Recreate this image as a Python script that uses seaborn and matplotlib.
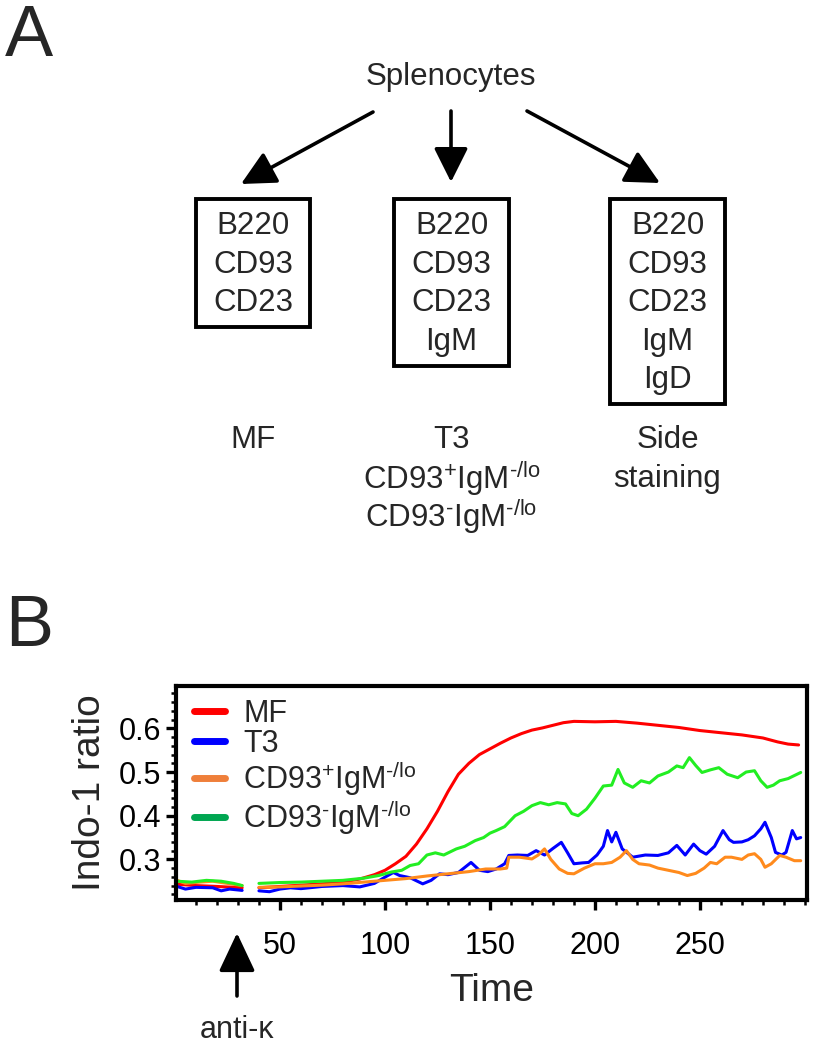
"""
plot.py - flow scheme (A) and Indo-1 calcium flux traces (B).
"""
import matplotlib
matplotlib.use("Agg")
import matplotlib.pyplot as plt
from matplotlib.lines import Line2D
from matplotlib.patches import Rectangle, FancyArrowPatch
from matplotlib.ticker import MultipleLocator
import numpy as np
import pandas as pd
import seaborn as sns

# ---- panel B data ----
SERIES = ["MF", "T3", "CD93+IgM-/lo", "CD93-IgM-/lo"]
POS_LABEL = "CD93$^{+}$IgM$^{\u2010/\\mathrm{lo}}$"
NEG_LABEL = "CD93$^{\u2010}$IgM$^{\u2010/\\mathrm{lo}}$"
LABELS = ["MF", "T3", POS_LABEL, NEG_LABEL]
LINE_COLORS = ["#ff0000", "#0000ff", "#ff8a1c", "#22ee22"]
LEGEND_COLORS = ["#ff0000", "#0000ff", "#ef7f3a", "#00a651"]

# before stimulation (time 1-32), one list per series
pre_t = {
    "MF":           [1, 10, 20, 28, 32],
    "T3":           [1, 5, 10, 18, 22, 26, 32],
    "CD93+IgM-/lo": [1, 5, 12, 18, 25, 32],
    "CD93-IgM-/lo": [1, 8, 15, 22, 28, 32],
}
pre_v = {
    "MF":           [0.243, 0.240, 0.238, 0.236, 0.235],
    "T3":           [0.238, 0.232, 0.236, 0.235, 0.228, 0.232, 0.229],
    "CD93+IgM-/lo": [0.252, 0.245, 0.248, 0.250, 0.245, 0.240],
    "CD93-IgM-/lo": [0.250, 0.248, 0.252, 0.250, 0.245, 0.240],
}

# after anti-kappa (time 40-298)
mf_t = [40, 50, 60, 70, 80, 88, 95, 100, 105, 110, 115, 120, 125, 130, 135, 140,
        145, 150, 155, 160, 165, 170, 175, 180, 185, 190, 200, 210, 220, 230,
        240, 250, 260, 270, 280, 287, 292, 297]
mf_v = [0.235, 0.238, 0.241, 0.244, 0.248, 0.255, 0.265, 0.275, 0.290, 0.307,
        0.335, 0.370, 0.410, 0.455, 0.495, 0.520, 0.540, 0.553, 0.566, 0.578,
        0.588, 0.596, 0.601, 0.607, 0.613, 0.616, 0.615, 0.616, 0.612, 0.607,
        0.602, 0.595, 0.590, 0.585, 0.578, 0.569, 0.564, 0.562]

t3_t = [40, 45, 50, 55, 60, 70, 80, 88, 95, 101, 104, 107, 112, 118, 122, 126,
        130, 135, 141, 145, 149, 153, 157, 159, 163, 168, 172, 176, 180, 184,
        187, 190, 194, 197, 201, 204, 206, 208, 210, 213, 218, 224, 230, 235,
        239, 243, 247, 250, 253, 257, 261, 264, 266, 270, 273, 276, 279, 281,
        284, 286, 289, 291, 294, 296, 298]
t3_v = [0.228, 0.226, 0.232, 0.235, 0.233, 0.238, 0.240, 0.237, 0.245, 0.262,
        0.270, 0.263, 0.258, 0.244, 0.252, 0.267, 0.265, 0.270, 0.293, 0.275,
        0.272, 0.278, 0.290, 0.309, 0.310, 0.309, 0.320, 0.310, 0.325, 0.339,
        0.315, 0.290, 0.292, 0.293, 0.310, 0.330, 0.366, 0.340, 0.362, 0.324,
        0.305, 0.310, 0.309, 0.315, 0.332, 0.310, 0.335, 0.320, 0.312, 0.330,
        0.366, 0.345, 0.339, 0.340, 0.345, 0.354, 0.370, 0.385, 0.350, 0.316,
        0.310, 0.316, 0.366, 0.347, 0.350]

pos_t = [40, 50, 60, 70, 80, 90, 100, 110, 120, 130, 140, 148, 155, 158, 159,
         164, 170, 173, 176, 179, 183, 187, 190, 195, 200, 204, 208, 212, 215,
         218, 221, 226, 230, 235, 240, 244, 248, 252, 255, 258, 262, 265, 270,
         273, 276, 279, 281, 284, 288, 291, 295, 298]
pos_v = [0.236, 0.237, 0.239, 0.241, 0.244, 0.248, 0.252, 0.256, 0.262, 0.267,
         0.272, 0.278, 0.278, 0.280, 0.305, 0.305, 0.301, 0.310, 0.324, 0.300,
         0.278, 0.268, 0.267, 0.280, 0.290, 0.290, 0.293, 0.305, 0.320, 0.300,
         0.290, 0.287, 0.280, 0.275, 0.270, 0.263, 0.268, 0.280, 0.293, 0.290,
         0.305, 0.305, 0.300, 0.310, 0.313, 0.300, 0.282, 0.290, 0.309, 0.305,
         0.297, 0.297]

neg_t = [40, 50, 60, 70, 80, 90, 97, 103, 108, 112, 116, 120, 124, 128, 134,
         138, 143, 147, 150, 153, 157, 162, 166, 170, 174, 178, 182, 186, 189,
         192, 196, 200, 204, 208, 211, 214, 218, 222, 226, 230, 235, 239, 242,
         245, 248, 251, 255, 259, 263, 268, 272, 276, 279, 282, 285, 288, 292,
         295, 298]
neg_v = [0.245, 0.247, 0.248, 0.250, 0.252, 0.257, 0.263, 0.271, 0.275, 0.286,
         0.290, 0.310, 0.315, 0.310, 0.324, 0.330, 0.343, 0.350, 0.360, 0.366,
         0.375, 0.400, 0.410, 0.423, 0.430, 0.425, 0.430, 0.427, 0.405, 0.400,
         0.415, 0.440, 0.468, 0.470, 0.506, 0.475, 0.465, 0.480, 0.475, 0.491,
         0.500, 0.514, 0.510, 0.533, 0.515, 0.499, 0.505, 0.510, 0.495, 0.487,
         0.500, 0.503, 0.480, 0.465, 0.470, 0.480, 0.485, 0.492, 0.499]

post_t = {"MF": mf_t, "T3": t3_t, "CD93+IgM-/lo": pos_t, "CD93-IgM-/lo": neg_t}
post_v = {"MF": mf_v, "T3": t3_v, "CD93+IgM-/lo": pos_v, "CD93-IgM-/lo": neg_v}

X_TICKS = [50, 100, 150, 200, 250]
Y_TICKS = [0.3, 0.4, 0.5, 0.6]

# ---- panel A text ----
BOX_MARKERS = [
    ["B220", "CD93", "CD23"],
    ["B220", "CD93", "CD23", "IgM"],
    ["B220", "CD93", "CD23", "IgM", "IgD"],
]
POP_LABELS = [
    ["MF"],
    ["T3", POS_LABEL, NEG_LABEL],
    ["Side", "staining"],
]

# ---- build long table ----
rows = []
for s in SERIES:
    for t, v in zip(pre_t[s], pre_v[s]):
        rows.append((s, "pre", t, v))
    for t, v in zip(post_t[s], post_v[s]):
        rows.append((s, "post", t, v))
df = pd.DataFrame(rows, columns=["series", "segment", "time", "ratio"])

sns.set_theme(style="ticks")
plt.rcParams["font.family"] = ["Liberation Sans", "DejaVu Sans"]
plt.rcParams["mathtext.fontset"] = "custom"
plt.rcParams["mathtext.rm"] = "Liberation Sans"
plt.rcParams["mathtext.it"] = "Liberation Sans:italic"
plt.rcParams["mathtext.default"] = "regular"

W, H = 818, 1050
fig = plt.figure(figsize=(W / 100, H / 100), dpi=100, facecolor="white")

# overlay in pixel coordinates for the scheme
ov = fig.add_axes([0, 0, 1, 1], zorder=0)
ov.set_xlim(0, W)
ov.set_ylim(H, 0)
ov.axis("off")

ov.text(5, 4, "A", fontsize=52, ha="left", va="top")
ov.text(5, 594, "B", fontsize=52, ha="left", va="top")
ov.text(451, 77, "Splenocytes", fontsize=22.5, ha="center", va="center")

arrows = [((373, 112), (241, 184)), ((451, 111), (451, 182)), ((527, 111), (660, 183))]
for start, end in arrows:
    ov.add_patch(FancyArrowPatch(start, end, arrowstyle="-|>,head_length=1.5,head_width=0.75",
                                 mutation_scale=14, lw=2.6, color="black",
                                 shrinkA=0, shrinkB=0))

box_x = [(196, 310), (394, 509), (610, 725)]
line_gap = 38.6
for (x0, x1), markers, pops in zip(box_x, BOX_MARKERS, POP_LABELS):
    cx = (x0 + x1) / 2
    y_bottom = 226 + line_gap * (len(markers) - 1) + 24
    ov.add_patch(Rectangle((x0, 199), x1 - x0, y_bottom - 199, fill=False, lw=2.8,
                           ec="black"))
    for i, m in enumerate(markers):
        ov.text(cx, 226 + i * line_gap, m, fontsize=22.5, ha="center", va="center")
    for i, p in enumerate(pops):
        ov.text(cx, 440 + i * 38.5, p, fontsize=22.5, ha="center", va="center")

# ---- panel B ----
ax = fig.add_axes([176 / W, 1 - 900 / H, (807 - 176) / W, (900 - 686) / H], zorder=1)
sns.lineplot(data=df, x="time", y="ratio", hue="series", units="segment",
             estimator=None, sort=False, palette=dict(zip(SERIES, LINE_COLORS)),
             hue_order=SERIES, lw=2.2, legend=False, ax=ax)

ax.set_xlim(0.5, 301)
ax.set_ylim(0.207, 0.697)
ax.set_xticks(X_TICKS)
ax.set_yticks(Y_TICKS)
ax.set_yticklabels([f"{v:.1f}" for v in Y_TICKS])
ax.xaxis.set_minor_locator(MultipleLocator(10))
ax.yaxis.set_minor_locator(MultipleLocator(0.02))
ax.tick_params(axis="both", which="major", labelsize=22, length=7, width=2.4,
               color="black", labelcolor="black", pad=3.6)
ax.tick_params(axis="both", which="minor", length=3.5, width=1.8, color="black")
ax.tick_params(axis="x", which="major", pad=15)
for sp in ax.spines.values():
    sp.set_visible(True)
    sp.set_linewidth(3)
    sp.set_color("black")
ax.set_facecolor("white")
ax.set_xlabel("Time", fontsize=28, labelpad=9)
ax.set_ylabel("Indo-1 ratio", fontsize=28, labelpad=8)

handles = [Line2D([0], [0], color=c, lw=5) for c in LEGEND_COLORS]
ax.legend(handles, LABELS, loc="upper left", bbox_to_anchor=(0.0, 1.025), frameon=False,
          fontsize=22, handlelength=1.0, handletextpad=0.6, labelspacing=0.0,
          borderaxespad=0.3, borderpad=0.3)

# stimulation marker below the axis
ov.add_patch(FancyArrowPatch((237, 996), (237, 933), arrowstyle="-|>,head_length=1.7,head_width=0.8",
                             mutation_scale=14, lw=2.6, color="black", shrinkA=0, shrinkB=0))
ov.text(237, 1030, "anti-\u03ba", fontsize=22, ha="center", va="center")

fig.savefig("out.png", dpi=100, facecolor="white")
